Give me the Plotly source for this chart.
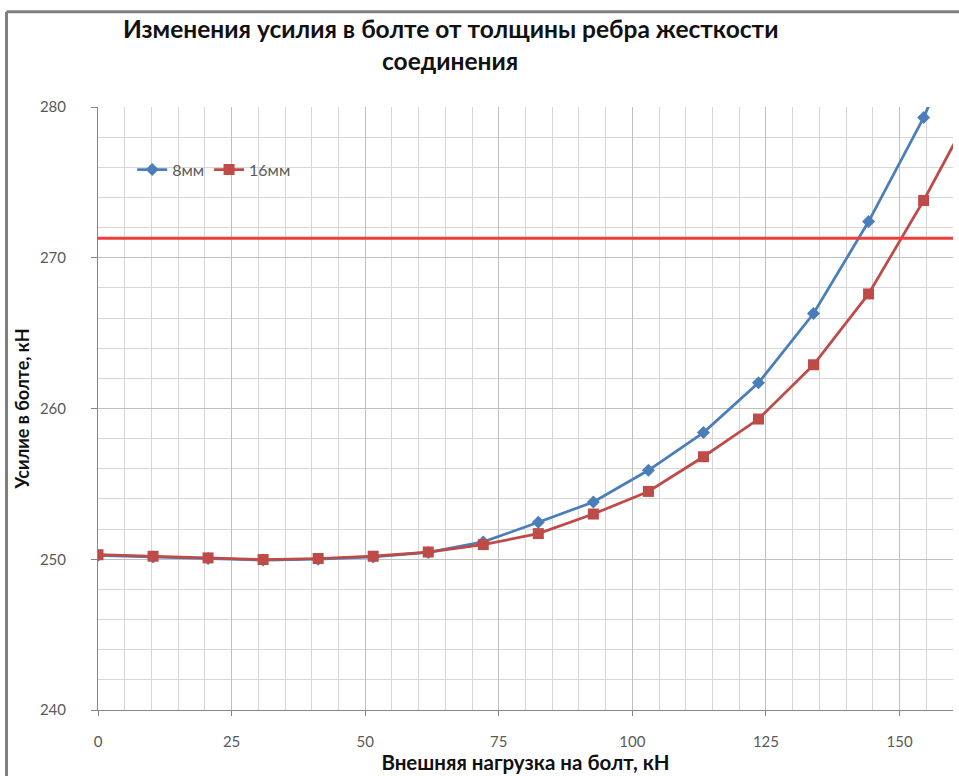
import plotly.graph_objects as go

# ---- data ----
load_kn = [0, 10.3, 20.6, 30.9, 41.2, 51.5, 61.8, 72.1, 82.4, 92.7,
           103.0, 113.3, 123.6, 133.9, 144.2, 154.5, 164.8]
force_8mm = [250.25, 250.15, 250.05, 249.95, 250.0, 250.15, 250.45, 251.15, 252.45,
             253.8, 255.9, 258.4, 261.7, 266.3, 272.4, 279.3, 287.6]
force_16mm = [250.3, 250.2, 250.09, 249.98, 250.05, 250.2, 250.48, 250.97, 251.7,
              253.0, 254.5, 256.8, 259.3, 262.9, 267.6, 273.8, 280.6]
limit_force = 271.3
series_names = ["8мм", "16мм"]
title_lines = ["Изменения усилия в болте от толщины ребра жесткости", "соединения"]
x_title = "Внешняя нагрузка на болт, кН"
y_title = "Усилие в болте, кН"
x_ticks = [0, 25, 50, 75, 100, 125, 150]
y_ticks = [240, 250, 260, 270, 280]

FONT = "Lato, 'Open Sans', sans-serif"

fig = go.Figure()
fig.add_trace(go.Scatter(
    x=load_kn, y=force_8mm, name=series_names[0], mode="lines+markers",
    line=dict(color="#4A7EBB", width=2.75),
    marker=dict(symbol="diamond", size=10, color="#4A7EBB"),
))
fig.add_trace(go.Scatter(
    x=load_kn, y=force_16mm, name=series_names[1], mode="lines+markers",
    line=dict(color="#BE4B48", width=2.75),
    marker=dict(symbol="square", size=11, color="#BE4B48"),
))

fig.add_shape(type="line", xref="paper", yref="y", x0=0, x1=1,
              y0=limit_force, y1=limit_force,
              line=dict(color="#F03C3C", width=3), layer="above")

# outer chart frame (top and left edges visible in the cropped reference)
fig.add_shape(type="line", xref="paper", yref="paper", x0=-0.107, x1=1.2,
              y0=1.158, y1=1.158, line=dict(color="#7F7F7F", width=3))
fig.add_shape(type="line", xref="paper", yref="paper", x0=-0.107, x1=-0.107,
              y0=-0.2, y1=1.158, line=dict(color="#7F7F7F", width=3))

fig.add_annotation(text="<b>%s</b>" % title_lines[0], xref="paper", yref="paper",
                   x=0.412, y=1.130, showarrow=False, xanchor="center", yanchor="middle",
                   font=dict(family=FONT, size=24.5, color="#111111"))
fig.add_annotation(text="<b>%s</b>" % title_lines[1], xref="paper", yref="paper",
                   x=0.412, y=1.077, showarrow=False, xanchor="center", yanchor="middle",
                   font=dict(family=FONT, size=24.5, color="#111111"))

fig.update_layout(
    width=959, height=776,
    margin=dict(l=98, r=6, t=107, b=66),
    paper_bgcolor="white", plot_bgcolor="white",
    font=dict(family=FONT, color="#595959"),
    showlegend=True,
    legend=dict(orientation="h", x=0.040, y=0.896, xanchor="left", yanchor="middle",
                bgcolor="rgba(0,0,0,0)", font=dict(size=16, color="#595959"),
                itemwidth=30, tracegroupgap=0),
)

fig.update_xaxes(
    range=[0, 160], tickvals=x_ticks, ticktext=[str(v) for v in x_ticks],
    showgrid=True, gridcolor="#C0C0C0", gridwidth=1,
    minor=dict(dtick=5, showgrid=True, gridcolor="#D6D6D6", gridwidth=1),
    showline=True, linecolor="#868686", linewidth=1,
    ticks="outside", ticklen=5, tickcolor="#868686",
    tickfont=dict(size=15, color="#595959"), ticklabelstandoff=13,
    zeroline=False,
    title=dict(text="<b>%s</b>" % x_title, font=dict(size=20.5, color="#111111"), standoff=3),
)
fig.update_yaxes(
    range=[240, 280], tickvals=y_ticks, ticktext=[str(v) for v in y_ticks],
    showgrid=True, gridcolor="#C0C0C0", gridwidth=1,
    minor=dict(dtick=2, showgrid=True, gridcolor="#D6D6D6", gridwidth=1),
    showline=True, linecolor="#868686", linewidth=1,
    ticks="outside", ticklen=6, tickcolor="#868686",
    tickfont=dict(size=15, color="#595959"), ticklabelstandoff=22,
    zeroline=False,
    title=dict(text="<b>%s</b>" % y_title, font=dict(size=18, color="#111111"), standoff=5),
)

fig.write_html("out.html")
